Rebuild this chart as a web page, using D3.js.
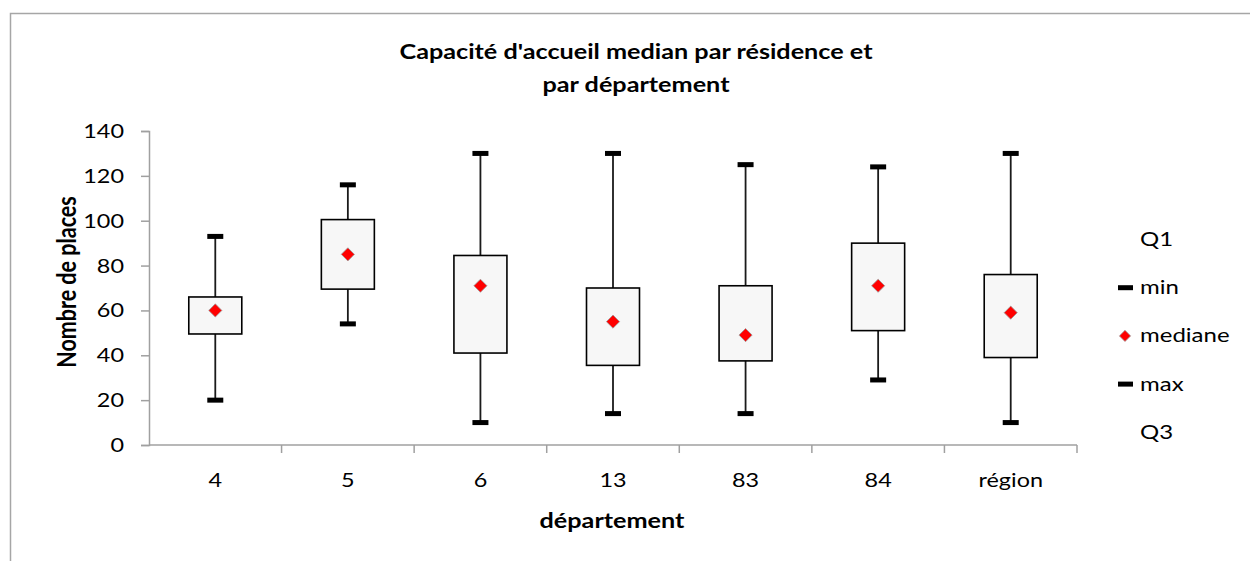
<!DOCTYPE html>
<html>
<head>
<meta charset="utf-8">
<script src="https://cdn.jsdelivr.net/npm/d3@7/dist/d3.min.js"></script>
<style>
  html, body { margin: 0; padding: 0; background: #fff; }
  svg { display: block; }
  text { font-family: "Lato", "Open Sans", sans-serif; fill: #000; }
</style>
</head>
<body>
<svg id="chart" width="1250" height="561"></svg>
<script>
// Capacity per residence, by département: five-number summaries
const categories = ["4", "5", "6", "13", "83", "84", "région"];
const minVals    = [20, 54, 10, 14, 14, 29, 10];
const q1Vals     = [49.5, 69.5, 41, 35.5, 37.5, 51, 39];
const medianVals = [60, 85, 71, 55, 49, 71, 59];
const q3Vals     = [66, 100.5, 84.5, 70, 71, 90, 76];
const maxVals    = [93, 116, 130, 130, 125, 124, 130];
const yTicks     = [0, 20, 40, 60, 80, 100, 120, 140];
const legendLabels = ["Q1", "min", "mediane", "max", "Q3"];

const titleLines = ["Capacité d'accueil median par résidence et", "par département"];
const xTitle = "département";
const yTitle = "Nombre de places";

const rows = categories.map((c, i) => ({
  cat: c, min: minVals[i], q1: q1Vals[i], med: medianVals[i], q3: q3Vals[i], max: maxVals[i]
}));

// text is drawn slightly widened horizontally
const SX = 1.2;
function wideText(parent, px, py, str, opts) {
  const t = parent.append("text")
    .attr("transform", `translate(${px},${py}) scale(${SX},1)`)
    .attr("text-anchor", opts.anchor || "start")
    .attr("font-size", opts.size)
    .text(str);
  if (opts.bold) t.attr("font-weight", "bold");
  return t;
}

const svg = d3.select("#chart");
const plot = { left: 149, right: 1077, top: 131, bottom: 445 };

// outer chart frame (only top and left edges fall inside the canvas)
svg.append("rect")
  .attr("x", 10.5).attr("y", 13.5)
  .attr("width", 1300).attr("height", 700)
  .attr("fill", "none").attr("stroke", "#a6a6a6").attr("stroke-width", 1.5);

const x = d3.scaleBand().domain(categories).range([plot.left, plot.right]).padding(0);
const y = d3.scaleLinear().domain([0, 140]).range([plot.bottom, plot.top]);

const axisColor = "#a0a0a0";

// y axis
const yAxis = svg.append("g").attr("transform", `translate(${plot.left},0)`)
  .call(d3.axisLeft(y).tickValues(yTicks).tickSize(8).tickFormat(""));
yAxis.select(".domain").attr("stroke", axisColor).attr("stroke-width", 1.5);
yAxis.selectAll(".tick line").attr("stroke", axisColor).attr("stroke-width", 1.5);
yTicks.forEach(v => wideText(svg, 124, y(v) + 7, String(v), { size: 19.5, anchor: "end" }));

// x axis: line, ticks at category boundaries, labels at centers
const xg = svg.append("g");
xg.append("line")
  .attr("x1", plot.left).attr("x2", plot.right)
  .attr("y1", y(0)).attr("y2", y(0))
  .attr("stroke", axisColor).attr("stroke-width", 1.5);
const bounds = categories.map(c => x(c)).concat([x(categories[categories.length - 1]) + x.bandwidth()]);
xg.selectAll(".xtick").data(bounds.slice(1)).join("line")
  .attr("x1", d => d).attr("x2", d => d)
  .attr("y1", y(0)).attr("y2", y(0) + 8)
  .attr("stroke", axisColor).attr("stroke-width", 1.5);
categories.forEach(c => wideText(xg, x(c) + x.bandwidth() / 2, 487, c, { size: 19.5, anchor: "middle" }));

// boxes
const boxW = 53, capW = 16, capH = 5;
const g = svg.append("g");
const cx = d => x(d.cat) + x.bandwidth() / 2;

g.selectAll(".whisker").data(rows).join("line")
  .attr("x1", cx).attr("x2", cx)
  .attr("y1", d => y(d.max)).attr("y2", d => y(d.min))
  .attr("stroke", "#1a1a1a").attr("stroke-width", 1.8);

g.selectAll(".box").data(rows).join("rect")
  .attr("x", d => cx(d) - boxW / 2)
  .attr("y", d => y(d.q3))
  .attr("width", boxW)
  .attr("height", d => y(d.q1) - y(d.q3))
  .attr("fill", "#f7f7f7").attr("stroke", "#000").attr("stroke-width", 1.6);

g.selectAll(".capmax").data(rows).join("rect")
  .attr("x", d => cx(d) - capW / 2).attr("y", d => y(d.max) - capH / 2)
  .attr("width", capW).attr("height", capH).attr("fill", "#000");
g.selectAll(".capmin").data(rows).join("rect")
  .attr("x", d => cx(d) - capW / 2).attr("y", d => y(d.min) - capH / 2)
  .attr("width", capW).attr("height", capH).attr("fill", "#000");

const diamond = d3.symbol().type(d3.symbolDiamond2).size(110);
g.selectAll(".med").data(rows).join("path")
  .attr("d", diamond)
  .attr("transform", d => `translate(${cx(d)},${y(d.med)})`)
  .attr("fill", "#ff0000").attr("stroke", "#9a9a9a").attr("stroke-width", 0.8);

// title
titleLines.forEach((line, i) => wideText(svg, 636, 59 + i * 33, line, { size: 21, bold: true, anchor: "middle" }));

// axis titles
wideText(svg, 612, 528, xTitle, { size: 21, bold: true, anchor: "middle" });
svg.append("text")
  .attr("transform", `translate(76,282) scale(${SX},1) rotate(-90)`)
  .attr("text-anchor", "middle").attr("font-size", 21.5).attr("font-weight", "bold")
  .text(yTitle);

// legend
const legY0 = 246, legStep = 48.2;
const leg = svg.append("g");
legendLabels.forEach((lab, i) => {
  const ly = legY0 + i * legStep;
  wideText(leg, 1140, ly, lab, { size: 20 });
  const my = ly - 6.5;
  if (lab === "min" || lab === "max") {
    leg.append("rect").attr("x", 1118).attr("y", my - 2.5).attr("width", 15).attr("height", 5).attr("fill", "#000");
  } else if (lab === "mediane") {
    leg.append("path").attr("d", d3.symbol().type(d3.symbolDiamond2).size(80))
      .attr("transform", `translate(1125,${my})`)
      .attr("fill", "#ff0000").attr("stroke", "#9a9a9a").attr("stroke-width", 0.8);
  }
});
</script>
</body>
</html>
